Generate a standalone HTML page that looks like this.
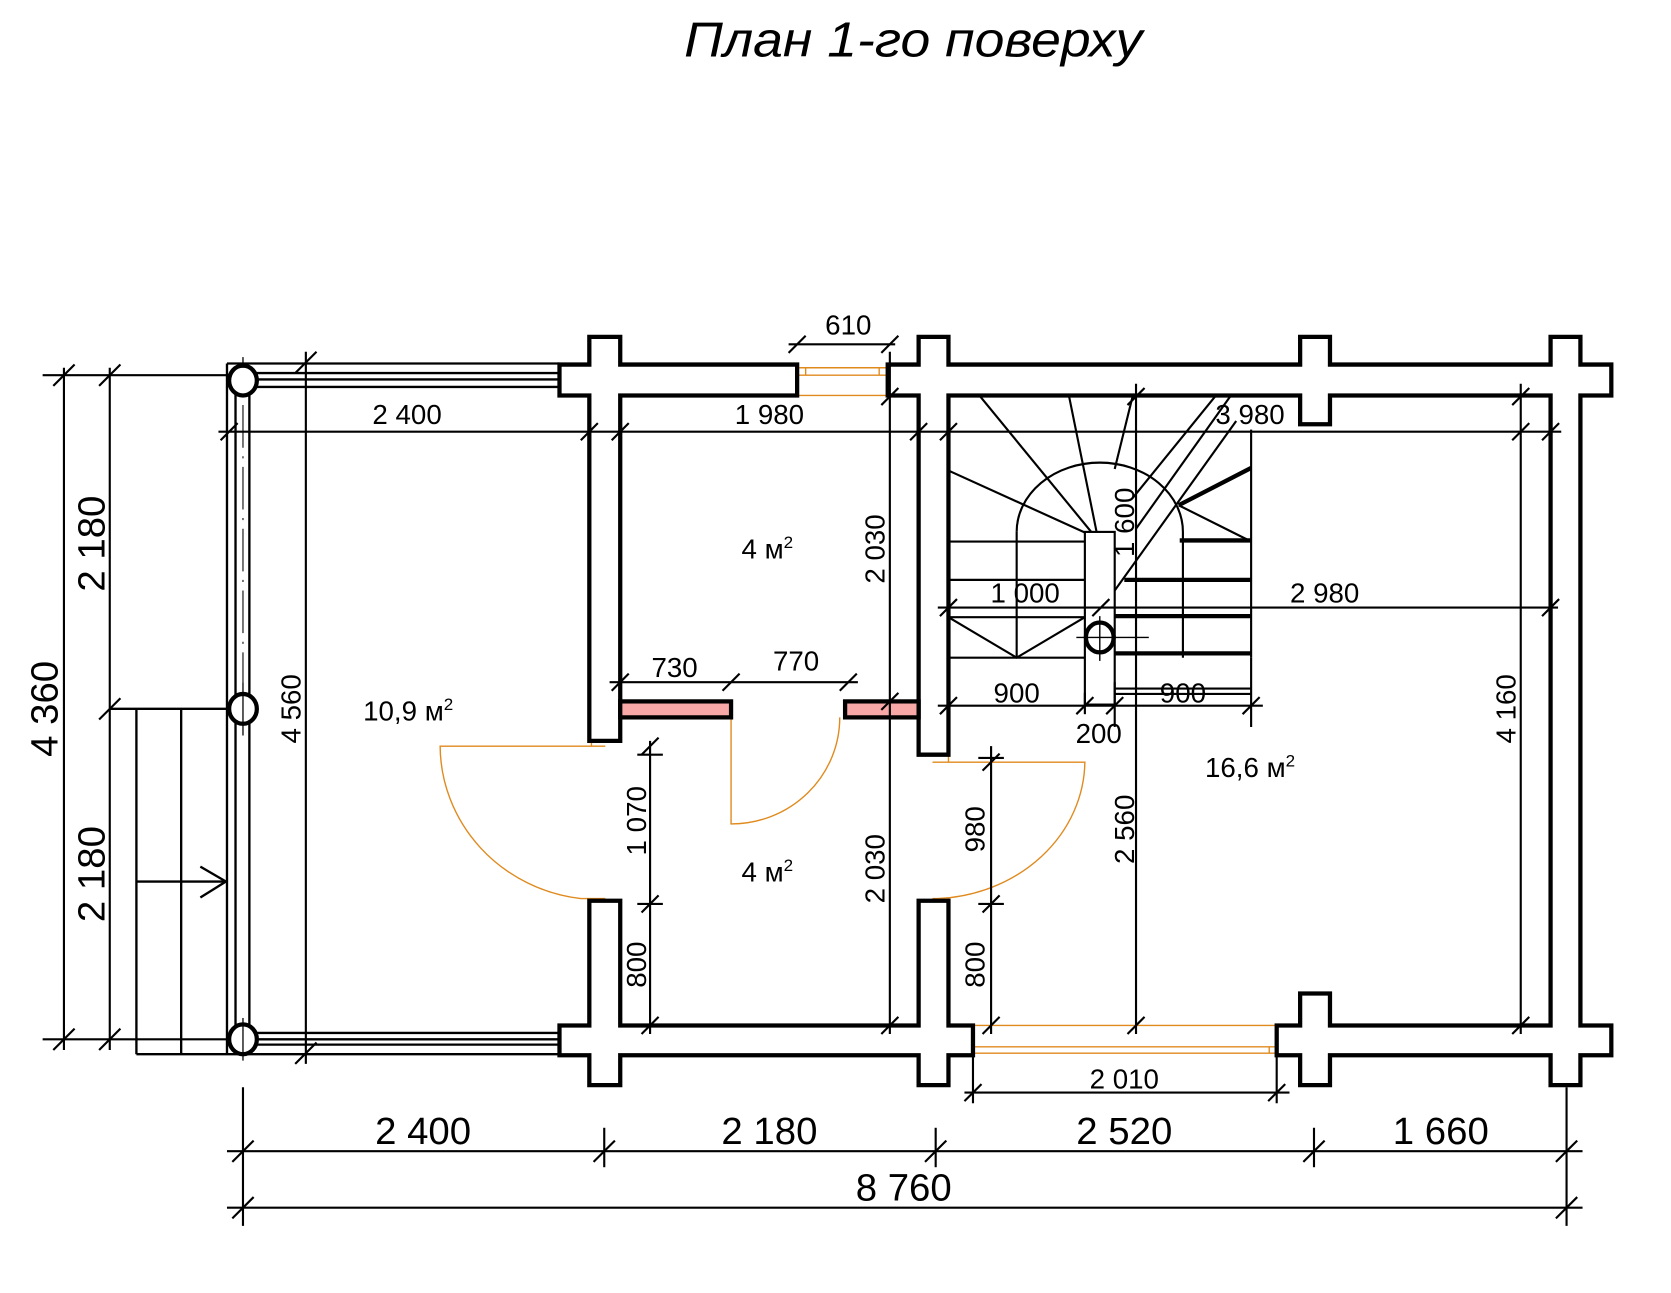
<!DOCTYPE html>
<html><head><meta charset="utf-8"><style>
html,body{margin:0;padding:0;background:#fff;}
svg{display:block;}
text{font-family:"Liberation Sans",sans-serif;fill:#000;}
</style></head><body>
<svg width="1671" height="1293" viewBox="0 0 1568 1213" preserveAspectRatio="none" xmlns="http://www.w3.org/2000/svg">
<rect width="1568" height="1213" fill="#fff"/>
<text x="642" y="53" font-size="46" font-style="italic" textLength="430" lengthAdjust="spacingAndGlyphs">План 1-го поверху</text>

<!-- porch railings -->
<g stroke="#000" stroke-width="2.2" fill="none">
<line x1="213" y1="341" x2="525" y2="341"/>
<line x1="240" y1="350" x2="525" y2="350"/>
<line x1="240" y1="356" x2="525" y2="356"/>
<line x1="240" y1="363" x2="525" y2="363"/>
<line x1="213" y1="341" x2="213" y2="989"/>
<line x1="221" y1="370" x2="221" y2="652"/>
<line x1="234" y1="370" x2="234" y2="652"/>
<line x1="221" y1="678" x2="221" y2="962"/>
<line x1="234" y1="678" x2="234" y2="962"/>
<line x1="240" y1="969" x2="525" y2="969"/>
<line x1="240" y1="975" x2="525" y2="975"/>
<line x1="240" y1="980" x2="525" y2="980"/>
<line x1="128" y1="989" x2="525" y2="989"/>
<!-- steps -->
<line x1="128" y1="665" x2="128" y2="989"/>
<line x1="170" y1="665" x2="170" y2="989"/>
<line x1="103" y1="665" x2="228" y2="665"/>
<line x1="128" y1="827" x2="212" y2="827"/>
<polyline points="188,813 212,827 188,842"/>
</g>
<line x1="228" y1="380" x2="228" y2="640" stroke="#000" stroke-width="1" stroke-dasharray="40,8,2,8"/>
<g stroke="#000" stroke-width="4" fill="#fff">
<ellipse cx="228" cy="357" rx="13" ry="14"/>
<ellipse cx="228" cy="665" rx="13" ry="14"/>
<ellipse cx="228" cy="975" rx="13" ry="14"/>
</g>
<g stroke="#000" stroke-width="1.2"><line x1="228" y1="640" x2="228" y2="690"/><line x1="228" y1="955" x2="228" y2="995"/><line x1="228" y1="335" x2="228" y2="345"/></g>

<!-- windows / doors orange -->
<g stroke="#e08a1e" stroke-width="1.3" fill="none">
<line x1="748" y1="345" x2="833" y2="345"/>
<line x1="748" y1="352" x2="833" y2="352"/>
<line x1="748" y1="371" x2="833" y2="371"/>
<line x1="756" y1="345" x2="756" y2="352"/><line x1="825" y1="345" x2="825" y2="352"/>
<line x1="913" y1="962" x2="1198" y2="962"/>
<line x1="913" y1="982" x2="1198" y2="982"/>
<line x1="913" y1="988" x2="1198" y2="988"/>
<line x1="1191" y1="982" x2="1191" y2="988"/>
<path d="M568,700 H413 A150,145 0 0 0 545,843 H568"/>
<path d="M555,700 V695 M555,843 V848"/>
<path d="M686,673 V773 A102,100 0 0 0 788,673"/>
<path d="M875,715 H1018 A145,130 0 0 1 880,843 H875"/>
<path d="M890,708 V715 M890,843 V848"/>
</g>

<!-- walls -->
<g stroke="#000" stroke-width="4" fill="#fff" stroke-linejoin="miter">
<polygon points="525,342 553,342 553,316 582,316 582,342 748,342 748,371 582,371 582,695 553,695 553,371 525,371"/>
<polygon points="833,342 862,342 862,316 890,316 890,342 1220,342 1220,316 1248,316 1248,342 1455,342 1455,316 1483,316 1483,342 1512,342 1512,371 1483,371 1483,962 1512,962 1512,990 1483,990 1483,1018 1455,1018 1455,990 1248,990 1248,1018 1220,1018 1220,990 1198,990 1198,962 1220,962 1220,932 1248,932 1248,962 1455,962 1455,371 1248,371 1248,398 1220,398 1220,371 890,371 890,708 862,708 862,371 833,371"/>
<polygon points="525,962 553,962 553,845 582,845 582,962 862,962 862,845 890,845 890,962 913,962 913,990 890,990 890,1018 862,1018 862,990 582,990 582,1018 553,1018 553,990 525,990"/>
<rect x="582" y="658" width="104" height="15" fill="#f9a8a8"/>
<rect x="793" y="658" width="69" height="15" fill="#f9a8a8"/>
</g>

<!-- stair -->
<g stroke="#000" stroke-width="2" fill="none">
<line x1="890" y1="508" x2="1018" y2="508"/>
<line x1="890" y1="544" x2="1018" y2="544"/>
<line x1="890" y1="579" x2="1018" y2="579"/>
<line x1="890" y1="617" x2="1018" y2="617"/>
<polyline points="890,579 954,617 1018,579"/>
<line x1="954" y1="499" x2="954" y2="617"/>
<path d="M954,499 A78,65 0 0 1 1110,499 V617"/>
<rect x="1018" y="499" width="28" height="162" fill="#fff"/>
<line x1="919" y1="371" x2="1024" y2="499"/>
<line x1="1003" y1="371" x2="1029" y2="499"/>
<line x1="1063" y1="371" x2="1046" y2="440"/>
<line x1="889" y1="441" x2="1019" y2="500"/>
<line x1="1141" y1="371" x2="1063" y2="467"/>
<line x1="1155" y1="371" x2="1066" y2="496"/>
<line x1="1160" y1="395" x2="1046" y2="554"/>
<line x1="1106" y1="474" x2="1174" y2="508"/>
<line x1="1174" y1="403" x2="1174" y2="617"/>
<line x1="1046" y1="646" x2="1174" y2="646"/>
<line x1="1046" y1="651" x2="1174" y2="651"/>
</g>
<g stroke="#000" stroke-width="4">
<line x1="1106" y1="474" x2="1174" y2="439"/>
<line x1="1107" y1="507" x2="1174" y2="507"/>
<line x1="1055" y1="544" x2="1174" y2="544"/>
<line x1="1046" y1="578" x2="1174" y2="578"/>
<line x1="1046" y1="613" x2="1174" y2="613"/>
</g>
<ellipse cx="1032" cy="598" rx="13" ry="14" stroke="#000" stroke-width="4" fill="#fff"/>
<g stroke="#000" stroke-width="1.3"><line x1="1010" y1="598" x2="1078" y2="598"/><line x1="1032" y1="578" x2="1032" y2="620"/></g>

<!-- dimension lines -->
<g stroke="#000" stroke-width="2" fill="none">
<!-- left verticals -->
<line x1="60" y1="345" x2="60" y2="985"/>
<line x1="103" y1="345" x2="103" y2="985"/>
<line x1="40" y1="352" x2="213" y2="352"/>
<line x1="40" y1="975" x2="213" y2="975"/>
<line x1="287" y1="330" x2="287" y2="998"/>
<!-- inner horizontals -->
<line x1="205" y1="405" x2="1465" y2="405"/>
<line x1="740" y1="323" x2="840" y2="323"/>
<line x1="880" y1="570" x2="1462" y2="570"/>
<line x1="572" y1="640" x2="805" y2="640"/>
<line x1="880" y1="662" x2="1185" y2="662"/>
<line x1="905" y1="1025" x2="1210" y2="1025"/>
<!-- inner verticals -->
<line x1="835" y1="330" x2="835" y2="970"/>
<line x1="610" y1="695" x2="610" y2="970"/>
<line x1="930" y1="700" x2="930" y2="970"/>
<line x1="1066" y1="360" x2="1066" y2="970"/>
<line x1="1427" y1="360" x2="1427" y2="970"/>
<line x1="1046" y1="640" x2="1046" y2="682"/>
<line x1="1018" y1="650" x2="1018" y2="670"/>
<line x1="1174" y1="617" x2="1174" y2="682"/>
<line x1="1198" y1="990" x2="1198" y2="1035"/>
<line x1="913" y1="990" x2="913" y2="1035"/>
<!-- bottom -->
<line x1="213" y1="1080" x2="1485" y2="1080"/>
<line x1="213" y1="1133" x2="1485" y2="1133"/>
<line x1="228" y1="1020" x2="228" y2="1150"/>
<line x1="567" y1="1058" x2="567" y2="1095"/>
<line x1="878" y1="1058" x2="878" y2="1095"/>
<line x1="1233" y1="1058" x2="1233" y2="1095"/>
<line x1="1470" y1="1020" x2="1470" y2="1150"/>
<!-- ticks -->
<path d="M50,362 l20,-20 M93,362 l20,-20 M93,675 l20,-20 M50,985 l20,-20 M93,985 l20,-20
M277,350 l20,-20 M277,998 l20,-20
M207,413 l16,-16 M545,413 l16,-16 M574,413 l16,-16 M854,413 l16,-16 M882,413 l16,-16 M1419,413 l16,-16 M1447,413 l16,-16
M740,331 l16,-16 M827,331 l16,-16
M882,578 l16,-16 M1025,578 l16,-16 M1447,578 l16,-16
M574,648 l16,-16 M678,648 l16,-16 M788,648 l16,-16
M882,670 l16,-16 M1010,670 l16,-16 M1038,670 l16,-16 M1166,670 l16,-16
M827,380 l16,-16 M827,666 l16,-16 M827,970 l16,-16
M602,708 l16,-16 M602,856 l16,-16 M602,970 l16,-16
M922,723 l16,-16 M922,856 l16,-16 M922,970 l16,-16
M1058,970 l16,-16 M1419,380 l16,-16 M1419,970 l16,-16 M1058,380 l16,-16
M905,1033 l16,-16 M1190,1033 l16,-16
M218,1090 l20,-20 M557,1090 l20,-20 M868,1090 l20,-20 M1223,1090 l20,-20 M1460,1090 l20,-20
M218,1143 l20,-20 M1460,1143 l20,-20"/>
<path d="M598,708 h24 M598,848 h24 M918,711 h24 M918,848 h24"/>
</g>

<!-- labels -->
<g font-size="26" text-anchor="middle">
<text x="796" y="314">610</text>
<text x="382" y="398">2 400</text>
<text x="722" y="398">1 980</text>
<text x="1173" y="398">3 980</text>
<text x="962" y="565">1 000</text>
<text x="1243" y="565">2 980</text>
<text x="633" y="635">730</text>
<text x="747" y="629">770</text>
<text x="954" y="659">900</text>
<text x="1110" y="659">900</text>
<text x="1031" y="697">200</text>
<text x="1055" y="1021">2 010</text>
<text transform="translate(830,515) rotate(-90)">2 030</text>
<text transform="translate(830,815) rotate(-90)">2 030</text>
<text transform="translate(606,770) rotate(-90)">1 070</text>
<text transform="translate(606,905) rotate(-90)">800</text>
<text transform="translate(924,778) rotate(-90)">980</text>
<text transform="translate(924,905) rotate(-90)">800</text>
<text transform="translate(1064,778) rotate(-90)">2 560</text>
<text transform="translate(1422,665) rotate(-90)">4 160</text>
<text transform="translate(1064,490) rotate(-90)">1 600</text>
<text transform="translate(282,665) rotate(-90)">4 560</text>
<text x="383" y="676">10,9 м<tspan font-size="16" dy="-10">2</tspan></text>
<text x="720" y="524">4 м<tspan font-size="16" dy="-10">2</tspan></text>
<text x="720" y="827">4 м<tspan font-size="16" dy="-10">2</tspan></text>
<text x="1173" y="729">16,6 м<tspan font-size="16" dy="-10">2</tspan></text>
</g>
<g font-size="36" text-anchor="middle">
<text x="397" y="1073">2 400</text>
<text x="722" y="1073">2 180</text>
<text x="1055" y="1073">2 520</text>
<text x="1352" y="1073">1 660</text>
<text x="848" y="1126">8 760</text>
<text transform="translate(54,665) rotate(-90)">4 360</text>
<text transform="translate(98,510) rotate(-90)">2 180</text>
<text transform="translate(98,820) rotate(-90)">2 180</text>
</g>
</svg>
</body></html>
